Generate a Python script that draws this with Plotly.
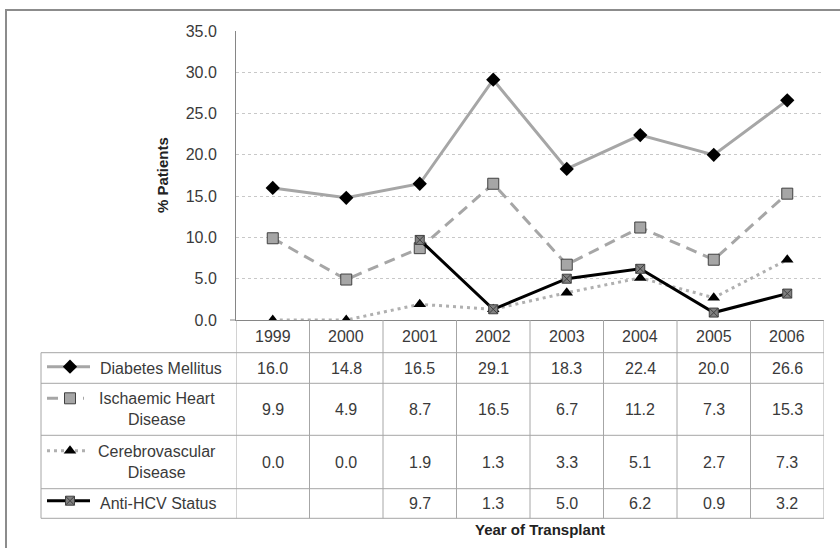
import plotly.graph_objects as go

years = ["1999", "2000", "2001", "2002", "2003", "2004", "2005", "2006"]
diabetes = [16.0, 14.8, 16.5, 29.1, 18.3, 22.4, 20.0, 26.6]
ihd = [9.9, 4.9, 8.7, 16.5, 6.7, 11.2, 7.3, 15.3]
cvd = [0.0, 0.0, 1.9, 1.3, 3.3, 5.1, 2.7, 7.3]
hcv = [None, None, 9.7, 1.3, 5.0, 6.2, 0.9, 3.2]
series_names = ["Diabetes Mellitus", "Ischaemic Heart<br>Disease", "Cerebrovascular<br>Disease", "Anti-HCV Status"]
y_ticks = [0, 5, 10, 15, 20, 25, 30, 35]

W, H = 840, 548
FONT = "Liberation Sans"
TXT = "#3a3a3a"
GRID = "#a6a6a6"
FS = 16

def px(x):
    return x / W

def py(y):
    return 1 - y / H

# layout geometry (pixels)
PL, PR, PT, PB = 236, 824, 31, 320
row_edges = [320, 352.7, 383.3, 435.3, 488.7, 518.3]
label_left = 41

styles = [
    dict(line=dict(color="#a6a6a6", width=3), marker=dict(symbol="diamond", size=11, color="black")),
    dict(line=dict(color="#a6a6a6", width=3, dash="11px,7px"),
         marker=dict(symbol="square", size=11, color="#a6a6a6", line=dict(color="#404040", width=1))),
    dict(line=dict(color="#b0b0b0", width=3, dash="3px,4px"), marker=dict(symbol="triangle-up", size=11, color="black")),
    dict(line=dict(color="black", width=3),
         marker=dict(symbol="square-x", size=9, color="#808080", line=dict(color="#404040", width=1))),
]
data = [diabetes, ihd, cvd, hcv]

fig = go.Figure()
for name, vals, st in zip(series_names, data, styles):
    fig.add_trace(go.Scatter(x=years, y=vals, mode="lines+markers", name=name,
                             line=st["line"], marker=st["marker"], showlegend=False,
                             connectgaps=False, hoverinfo="skip"))

# legend glyphs inside the table (separate full-page axis in pixel space)
glyph_rows = [366.7, 398.3, 450.7, 500.7]
glyph_spans = [(47, 90), (47, 84), (47, 89), (47, 90)]
for (x0, x1), yy, st in zip(glyph_spans, glyph_rows, styles):
    fig.add_trace(go.Scatter(x=[x0, x1], y=[yy, yy], mode="lines", line=st["line"],
                             xaxis="x2", yaxis="y2", showlegend=False, hoverinfo="skip"))
    fig.add_trace(go.Scatter(x=[70], y=[yy], mode="markers", marker=st["marker"],
                             xaxis="x2", yaxis="y2", showlegend=False, hoverinfo="skip"))

shapes = []
# outer chart border (top & left visible)
shapes.append(dict(type="rect", xref="paper", yref="paper", x0=px(6), x1=px(900), y0=py(10), y1=py(600),
                   line=dict(color="#8c8c8c", width=2), layer="below"))
# short extension of the category axis line to the left
shapes.append(dict(type="line", xref="paper", yref="paper", x0=px(230), x1=px(PL), y0=py(PB), y1=py(PB),
                   line=dict(color="#868686", width=1)))
# table horizontal lines
for i, ye in enumerate(row_edges):
    if i == 0:
        continue
    shapes.append(dict(type="line", xref="paper", yref="paper", x0=px(label_left), x1=px(PR),
                       y0=py(ye), y1=py(ye), line=dict(color=GRID, width=1)))
# vertical lines
for i in range(len(years) + 1):
    shapes.append(dict(type="line", xref="x", yref="paper", x0=i - 0.5, x1=i - 0.5,
                       y0=py(row_edges[0]), y1=py(row_edges[-1]), line=dict(color=GRID, width=1)))
shapes.append(dict(type="line", xref="paper", yref="paper", x0=px(label_left), x1=px(label_left),
                   y0=py(row_edges[1]), y1=py(row_edges[-1]), line=dict(color=GRID, width=1)))

annotations = []
# header years
for i, yr in enumerate(years):
    annotations.append(dict(x=i, xref="x", y=py((row_edges[0] + row_edges[1]) / 2), yref="paper",
                            text=yr, showarrow=False, xanchor="center", yanchor="middle",
                            font=dict(family=FONT, size=FS, color=TXT)))
# values
for r, vals in enumerate(data):
    yc = (row_edges[r + 1] + row_edges[r + 2]) / 2
    for i, v in enumerate(vals):
        if v is None:
            continue
        annotations.append(dict(x=i, xref="x", y=py(yc), yref="paper", text=f"{v:.1f}",
                                showarrow=False, xanchor="center", yanchor="middle",
                                font=dict(family=FONT, size=FS, color=TXT)))
# series labels
label_pos = [(98, "left"), (157, "center"), (157, "center"), (98, "left")]
for r, (name, (lx, anc)) in enumerate(zip(series_names, label_pos)):
    yc = (row_edges[r + 1] + row_edges[r + 2]) / 2
    annotations.append(dict(x=px(lx), xref="paper", y=py(yc), yref="paper", text=name,
                            xanchor=anc, yanchor="middle", showarrow=False, align="center",
                            font=dict(family=FONT, size=FS, color=TXT)))
# axis titles
annotations.append(dict(x=px(540), xref="paper", y=py(529), yref="paper", text="<b>Year of Transplant</b>",
                        showarrow=False, xanchor="center", yanchor="middle",
                        font=dict(family=FONT, size=15, color="#222222")))
annotations.append(dict(x=px(163), xref="paper", y=py(175), yref="paper", text="<b>% Patients</b>",
                        textangle=-90, showarrow=False, xanchor="center", yanchor="middle",
                        font=dict(family=FONT, size=15, color="#222222")))

fig.update_layout(
    width=W, height=H, autosize=False,
    margin=dict(l=0, r=0, t=0, b=0, pad=0),
    paper_bgcolor="white", plot_bgcolor="rgba(0,0,0,0)",
    xaxis=dict(domain=[px(PL), px(PR)], type="category", range=[-0.5, 7.5], showticklabels=False,
               showgrid=False, zeroline=False, showline=True, linecolor="#868686", linewidth=1,
               ticks="", automargin=False),
    yaxis=dict(domain=[py(PB), py(PT)], range=[0, 35], tickvals=y_ticks, tickformat=".1f",
               showgrid=True, gridcolor="#c8c8c8", griddash="dot", gridwidth=1,
               zeroline=False, showline=True, linecolor="#868686", linewidth=1,
               ticks="", ticklabelstandoff=15, automargin=False,
               tickfont=dict(family=FONT, size=FS, color=TXT)),
    xaxis2=dict(domain=[0, 1], range=[0, W], visible=False, anchor="y2", automargin=False),
    yaxis2=dict(domain=[0, 1], range=[H, 0], visible=False, anchor="x2", automargin=False),
    shapes=shapes, annotations=annotations,
)

fig.write_html("out.html", config={"displayModeBar": False},
               post_script="document.body.style.margin='0';document.body.style.overflow='hidden';")
